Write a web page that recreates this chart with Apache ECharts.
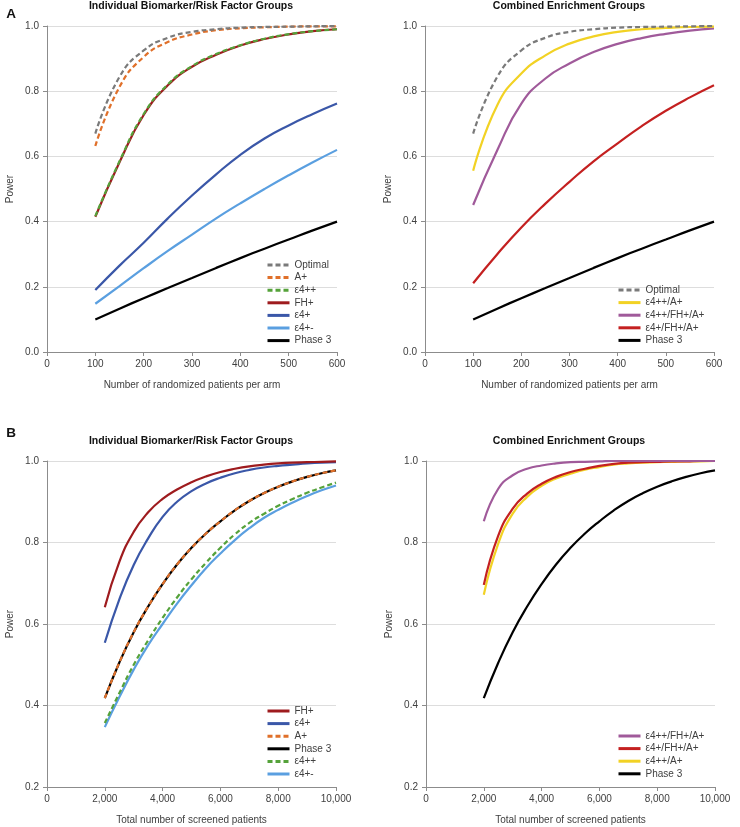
<!DOCTYPE html>
<html>
<head>
<meta charset="utf-8">
<script src="https://cdn.jsdelivr.net/npm/echarts@6/dist/echarts.min.js"></script>
<style>
html, body { margin: 0; padding: 0; background: #fff; }
#main { width: 740px; height: 827px; }
</style>
</head>
<body>
<div id="main"></div>
<script>
// panel A: randomized patients per arm
var armSizes = [100, 150, 200, 250, 300, 350, 400, 450, 500, 550, 600];
var aOptimal = [0.67, 0.844, 0.925, 0.964, 0.982, 0.99, 0.995, 0.997, 0.998, 0.999, 1.0];
var aAplus   = [0.632, 0.813, 0.905, 0.951, 0.974, 0.987, 0.993, 0.996, 0.998, 0.999, 0.999];
var aE4pp    = [0.417, 0.585, 0.73, 0.821, 0.877, 0.914, 0.941, 0.961, 0.975, 0.984, 0.99];
var aFH      = [0.415, 0.582, 0.727, 0.818, 0.875, 0.912, 0.94, 0.96, 0.974, 0.984, 0.99];
var aE4p     = [0.19, 0.265, 0.335, 0.41, 0.48, 0.545, 0.605, 0.655, 0.695, 0.73, 0.762];
var aE4pm    = [0.148, 0.202, 0.257, 0.31, 0.36, 0.41, 0.456, 0.50, 0.542, 0.582, 0.62];
var aPhase3  = [0.10, 0.133, 0.165, 0.196, 0.227, 0.258, 0.288, 0.317, 0.345, 0.373, 0.40];
var aE4ppA   = [0.556, 0.757, 0.854, 0.91, 0.946, 0.968, 0.982, 0.99, 0.994, 0.997, 0.998];
var aE4ppFHA = [0.451, 0.619, 0.762, 0.839, 0.885, 0.92, 0.945, 0.963, 0.976, 0.986, 0.993];
var aE4pFHA  = [0.211, 0.30, 0.382, 0.455, 0.522, 0.585, 0.64, 0.693, 0.74, 0.781, 0.818];

// panel B: total screened patients
var screened = [2000, 2500, 3000, 3500, 4000, 4500, 5000, 5500, 6000, 6500, 7000, 7500, 8000, 8500, 9000, 9500, 10000];
var bFH      = [0.641, 0.752, 0.826, 0.874, 0.907, 0.93, 0.948, 0.962, 0.973, 0.981, 0.987, 0.991, 0.994, 0.996, 0.997, 0.998, 0.999];
var bE4p     = [0.554, 0.66, 0.745, 0.81, 0.863, 0.9, 0.926, 0.945, 0.959, 0.97, 0.978, 0.984, 0.988, 0.991, 0.994, 0.996, 0.997];
var bAplus   = [0.418, 0.505, 0.58, 0.643, 0.698, 0.746, 0.787, 0.822, 0.852, 0.879, 0.902, 0.921, 0.937, 0.95, 0.961, 0.97, 0.977];
var bPhase3  = [0.418, 0.505, 0.58, 0.643, 0.698, 0.746, 0.787, 0.822, 0.852, 0.879, 0.902, 0.921, 0.937, 0.95, 0.961, 0.97, 0.977];
var bE4pp    = [0.357, 0.43, 0.50, 0.56, 0.615, 0.665, 0.71, 0.75, 0.787, 0.82, 0.848, 0.87, 0.89, 0.907, 0.922, 0.935, 0.947];
var bE4pm    = [0.347, 0.42, 0.488, 0.548, 0.60, 0.65, 0.695, 0.737, 0.773, 0.806, 0.835, 0.86, 0.88, 0.898, 0.914, 0.928, 0.94];
var bE4ppFHA = [0.852, 0.932, 0.965, 0.981, 0.989, 0.994, 0.997, 0.998, 0.999, 1.0, 1.0, 1.0, 1.0, 1.0, 1.0, 1.0, 1.0];
var bE4pFHA  = [0.696, 0.817, 0.883, 0.92, 0.944, 0.961, 0.973, 0.981, 0.988, 0.993, 0.996, 0.997, 0.998, 0.999, 0.999, 1.0, 1.0];
var bE4ppA   = [0.672, 0.797, 0.871, 0.912, 0.939, 0.957, 0.969, 0.979, 0.985, 0.991, 0.994, 0.996, 0.997, 0.998, 0.999, 0.999, 1.0];

var FONT = 'Liberation Sans, Arial, sans-serif';
var TXT = '#404040';
var col = {
  opt: '#7a7a7a', aplus: '#e0702a', e4pp: '#55a23a', fh: '#9e1b1e',
  e4p: '#3a57a8', e4pm: '#5a9fe0', ph3: '#000000',
  yel: '#f2d224', pur: '#a05a9a', red: '#c42020'
};

function pairs(xs, ys) {
  var out = [];
  for (var i = 0; i < xs.length; i++) out.push([xs[i], ys[i]]);
  return out;
}

function line(name, xs, ys, color, dashed, idx) {
  return {
    name: name, type: 'line', smooth: true, symbol: 'none',
    xAxisIndex: idx, yAxisIndex: idx,
    data: pairs(xs, ys),
    lineStyle: { color: color, width: 2.2, type: dashed ? [5, 3] : 'solid' },
    itemStyle: { color: color },
    emphasis: { disabled: true }
  };
}

var grids = [
  { left: 47, top: 26, width: 290, height: 326 },
  { left: 425, top: 26, width: 289, height: 326 },
  { left: 47, top: 461, width: 289, height: 326 },
  { left: 426, top: 461, width: 289, height: 326 }
];

function xAxis(idx, max, interval, name, comma) {
  return {
    type: 'value', gridIndex: idx, min: 0, max: max, interval: interval,
    name: name, nameLocation: 'middle', nameGap: 28,
    nameTextStyle: { fontFamily: FONT, fontSize: 10, color: TXT },
    axisLine: { show: true, lineStyle: { color: '#8c8c8c', width: 1 } },
    axisTick: { show: true, length: 4, lineStyle: { color: '#8c8c8c' } },
    axisLabel: {
      fontFamily: FONT, fontSize: 10, color: TXT, margin: 7,
      formatter: function (v) { return comma ? v.toLocaleString('en-US') : String(v); }
    },
    splitLine: { show: false }
  };
}

function yAxis(idx, min) {
  return {
    type: 'value', gridIndex: idx, min: min, max: 1.0, interval: 0.2,
    name: 'Power', nameLocation: 'middle', nameGap: 32, nameRotate: 90,
    nameTextStyle: { fontFamily: FONT, fontSize: 10, color: TXT },
    axisLine: { show: true, lineStyle: { color: '#8c8c8c', width: 1 } },
    axisTick: { show: true, length: 4, lineStyle: { color: '#8c8c8c' } },
    axisLabel: {
      fontFamily: FONT, fontSize: 10, color: TXT, margin: 8,
      formatter: function (v) { return v.toFixed(1); }
    },
    splitLine: { show: true, lineStyle: { color: '#dddddd', width: 1 } }
  };
}

function legend(left, top, names) {
  return {
    orient: 'vertical', left: left, top: top, data: names, padding: 0,
    itemWidth: 22, itemHeight: 10, itemGap: 2.6,
    itemStyle: { opacity: 0 },
    lineStyle: { width: 3 },
    textStyle: { fontFamily: FONT, fontSize: 10, color: TXT, lineHeight: 10 },
    selectedMode: false
  };
}

function title(text, x, y, size) {
  return {
    text: text, left: x, top: y, textAlign: 'center', padding: 0,
    textStyle: { fontFamily: FONT, fontSize: size, fontWeight: 'bold', color: '#111' }
  };
}

var option = {
  animation: false,
  backgroundColor: '#fff',
  title: [
    title('Individual Biomarker/Risk Factor Groups', 191, 1, 10.5),
    title('Combined Enrichment Groups', 569, 1, 10.5),
    title('Individual Biomarker/Risk Factor Groups', 191, 436, 10.5),
    title('Combined Enrichment Groups', 569, 436, 10.5),
    title('A', 11, 7, 13.5),
    title('B', 11, 426, 13.5)
  ],
  grid: grids,
  xAxis: [
    xAxis(0, 600, 100, 'Number of randomized patients per arm', false),
    xAxis(1, 600, 100, 'Number of randomized patients per arm', false),
    xAxis(2, 10000, 2000, 'Total number of screened patients', true),
    xAxis(3, 10000, 2000, 'Total number of screened patients', true)
  ],
  yAxis: [yAxis(0, 0), yAxis(1, 0), yAxis(2, 0.2), yAxis(3, 0.2)],
  legend: [
    legend(266, 260, ['Optimal', 'A+', 'ε4++', 'FH+', 'ε4+', 'ε4+-', 'Phase 3']),
    legend(617, 285, ['Optimal', 'ε4++/A+', 'ε4++/FH+/A+', 'ε4+/FH+/A+', 'Phase 3']),
    legend(266, 706, ['FH+', 'ε4+', 'A+', 'Phase 3', 'ε4++', 'ε4+-']),
    legend(617, 731, ['ε4++/FH+/A+', 'ε4+/FH+/A+', 'ε4++/A+', 'Phase 3'])
  ],
  series: [
    line('Phase 3', armSizes, aPhase3, col.ph3, false, 0),
    line('ε4+-', armSizes, aE4pm, col.e4pm, false, 0),
    line('ε4+', armSizes, aE4p, col.e4p, false, 0),
    line('FH+', armSizes, aFH, col.fh, false, 0),
    line('ε4++', armSizes, aE4pp, col.e4pp, true, 0),
    line('A+', armSizes, aAplus, col.aplus, true, 0),
    line('Optimal', armSizes, aOptimal, col.opt, true, 0),

    line('Phase 3', armSizes, aPhase3, col.ph3, false, 1),
    line('ε4+/FH+/A+', armSizes, aE4pFHA, col.red, false, 1),
    line('ε4++/FH+/A+', armSizes, aE4ppFHA, col.pur, false, 1),
    line('ε4++/A+', armSizes, aE4ppA, col.yel, false, 1),
    line('Optimal', armSizes, aOptimal, col.opt, true, 1),

    line('ε4+-', screened, bE4pm, col.e4pm, false, 2),
    line('ε4++', screened, bE4pp, col.e4pp, true, 2),
    line('Phase 3', screened, bPhase3, col.ph3, false, 2),
    line('A+', screened, bAplus, col.aplus, true, 2),
    line('ε4+', screened, bE4p, col.e4p, false, 2),
    line('FH+', screened, bFH, col.fh, false, 2),

    line('Phase 3', screened, bPhase3, col.ph3, false, 3),
    line('ε4++/A+', screened, bE4ppA, col.yel, false, 3),
    line('ε4+/FH+/A+', screened, bE4pFHA, col.red, false, 3),
    line('ε4++/FH+/A+', screened, bE4ppFHA, col.pur, false, 3)
  ]
};

var chart = echarts.init(document.getElementById('main'));
chart.setOption(option);
</script>
</body>
</html>
